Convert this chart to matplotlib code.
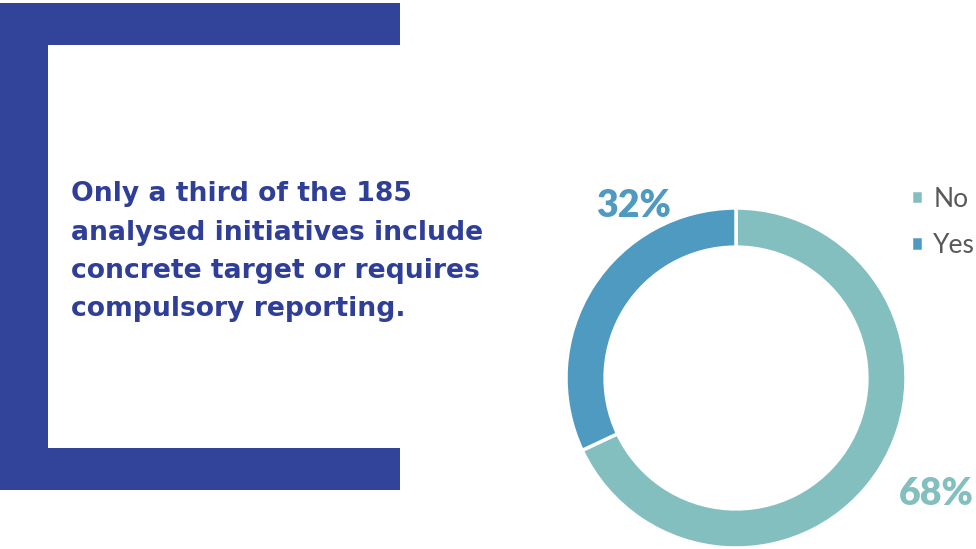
"""
Share of analysed initiatives with a concrete target or compulsory reporting.

Output:
    out.png
"""

import matplotlib.pyplot as plt
from matplotlib.patches import Rectangle

# Data
labels = ['No', 'Yes']
shares = [68, 32]
colors = ['#83BFBF', '#4E9AC1']

headline = ['Only a third of the 185',
            'analysed initiatives include',
            'concrete target or requires',
            'compulsory reporting.']

W, H = 976, 549
navy = '#32439A'


def main():
    fig = plt.figure(figsize=(W / 100, H / 100), dpi=100)
    fig.patch.set_facecolor('white')

    # Background layer in pixel coordinates for the bracket and headline
    bg = fig.add_axes([0, 0, 1, 1])
    bg.set_xlim(0, W)
    bg.set_ylim(H, 0)
    bg.axis('off')
    bg.add_patch(Rectangle((0, 3), 400, 42, color=navy, lw=0))
    bg.add_patch(Rectangle((0, 3), 48, 487, color=navy, lw=0))
    bg.add_patch(Rectangle((0, 448), 400, 42, color=navy, lw=0))

    for i, line in enumerate(headline):
        bg.text(71, 201 + i * 38.5, line, fontsize=19.2, fontweight='bold',
                family=['DejaVu Sans'], color='#2F3F98',
                ha='left', va='baseline')

    # Donut
    ax = fig.add_axes([566 / W, 1 / H, 340 / W, 340 / H])
    wedges, _ = ax.pie(shares, colors=colors, startangle=90, counterclock=False,
                       radius=1.0,
                       wedgeprops=dict(width=0.23, edgecolor='white', linewidth=2.5))
    ax.set_xlim(-1, 1)
    ax.set_ylim(-1, 1)
    ax.set_aspect('equal')
    ax.axis('off')

    # Value labels
    ax.text(1.18, -0.685, f'{shares[0]}%', fontsize=27, fontweight='heavy',
            family=['Lato', 'DejaVu Sans'], color=colors[0],
            ha='center', va='center')
    ax.text(-0.6, 1.01, f'{shares[1]}%', fontsize=27, fontweight='heavy',
            family=['Lato', 'DejaVu Sans'], color=colors[1],
            ha='center', va='center')

    leg = fig.legend(wedges, labels, loc='upper left',
                     bbox_to_anchor=(887 / W, 1 - 163 / H),
                     frameon=False,
                     handlelength=0.45, handleheight=0.45, handletextpad=0.4,
                     labelspacing=0.8, prop={'family': 'Lato', 'size': 19})
    for t in leg.get_texts():
        t.set_color('#595959')

    fig.savefig('out.png', dpi=100, facecolor='white')


if __name__ == '__main__':
    main()
